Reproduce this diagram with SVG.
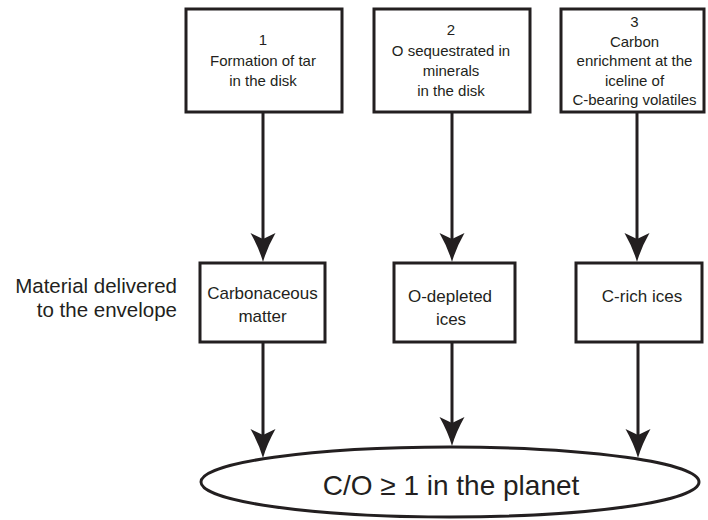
<svg xmlns="http://www.w3.org/2000/svg" width="708" height="520" viewBox="0 0 708 520">
<style>
.box{fill:#fff;stroke:#231f20;stroke-width:3}
.t{font-family:"Liberation Sans",Arial,sans-serif;font-size:15px;fill:#231f20;text-anchor:middle}
.m{font-family:"Liberation Sans",Arial,sans-serif;font-size:17px;fill:#231f20;text-anchor:middle}
.side{font-family:"Liberation Sans",Arial,sans-serif;font-size:20.5px;fill:#231f20;text-anchor:end}
.big{font-family:"Liberation Sans",Arial,sans-serif;font-size:28px;fill:#231f20;text-anchor:middle}
.line{stroke:#231f20;stroke-width:3;fill:none}
.head{fill:#231f20}
</style>
<rect width="708" height="520" fill="#fff"/>
<g id="connectors">
<line class="line" x1="263" y1="113" x2="263" y2="240"/>
<path class="head" d="M263,262 Q259,248 250.5,233 L263,239 L275.5,233 Q267,248 263,262 Z"/>
<line class="line" x1="452" y1="113" x2="452" y2="240"/>
<path class="head" d="M452,262 Q448,248 439.5,233 L452,239 L464.5,233 Q456,248 452,262 Z"/>
<line class="line" x1="637" y1="113" x2="637" y2="240"/>
<path class="head" d="M637,262 Q633,248 624.5,233 L637,239 L649.5,233 Q641,248 637,262 Z"/>
<line class="line" x1="263" y1="342" x2="263" y2="436"/>
<path class="head" d="M263,458 Q259,444 250.5,429 L263,435 L275.5,429 Q267,444 263,458 Z"/>
<line class="line" x1="452" y1="342" x2="452" y2="424"/>
<path class="head" d="M452,446 Q448,432 439.5,417 L452,423 L464.5,417 Q456,432 452,446 Z"/>
<line class="line" x1="638" y1="342" x2="638" y2="436"/>
<path class="head" d="M638,458 Q634,444 625.5,429 L638,435 L650.5,429 Q642,444 638,458 Z"/>
</g>
<g id="box1">
<rect class="box" x="186" y="9" width="156" height="103"/>
<text class="t" x="263" y="45">1</text>
<text class="t" x="263" y="65.5">Formation of tar</text>
<text class="t" x="263" y="85.5">in the disk</text>
</g>
<g id="box2">
<rect class="box" x="374" y="9" width="156" height="103"/>
<text class="t" x="451" y="35">2</text>
<text class="t" x="451" y="55.5">O sequestrated in</text>
<text class="t" x="451" y="76">minerals</text>
<text class="t" x="451" y="96">in the disk</text>
</g>
<g id="box3">
<rect class="box" x="561" y="9" width="143" height="103"/>
<text class="t" x="634.5" y="27">3</text>
<text class="t" x="634.5" y="46.5">Carbon</text>
<text class="t" x="634.5" y="66">enrichment at the</text>
<text class="t" x="634.5" y="86">iceline of</text>
<text class="t" x="634.5" y="105">C-bearing volatiles</text>
</g>
<g id="label-material">
<text class="side" x="177" y="293">Material delivered</text>
<text class="side" x="177" y="317">to the envelope</text>
</g>
<g id="carbonaceous">
<rect class="box" x="200" y="263" width="125" height="79"/>
<text class="m" x="262.5" y="299">Carbonaceous</text>
<text class="m" x="262.5" y="322">matter</text>
</g>
<g id="odepleted">
<rect class="box" x="394" y="263" width="121" height="79"/>
<text class="m" x="450" y="301.5">O-depleted</text>
<text class="m" x="451" y="325">ices</text>
</g>
<g id="crich">
<rect class="box" x="576" y="263" width="126" height="79"/>
<text class="m" x="642" y="301.5">C-rich ices</text>
</g>
<g id="planet">
<ellipse class="box" cx="450" cy="482" rx="249" ry="35"/>
<text class="big" x="451" y="495">C/O ≥ 1 in the planet</text>
</g>
</svg>
